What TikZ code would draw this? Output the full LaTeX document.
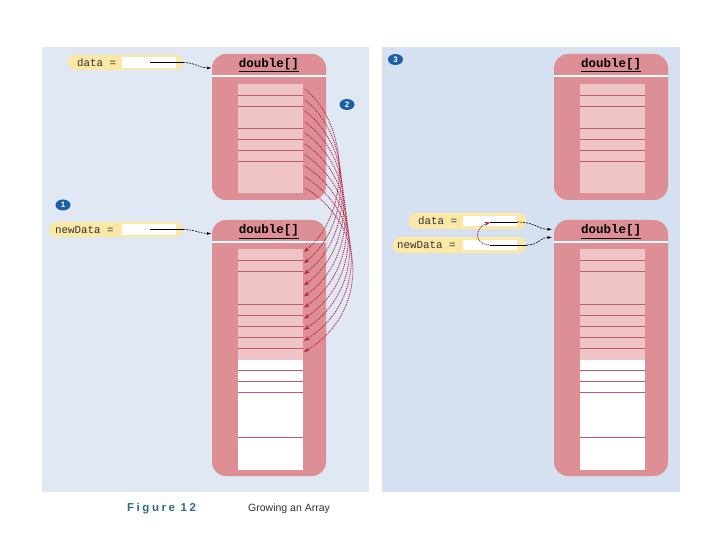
\documentclass[tikz,border=0pt]{standalone}
\usepackage{fontspec}
\newfontfamily\monof{Liberation Mono}
\newfontfamily\sansf{Liberation Sans}
\usetikzlibrary{arrows.meta,shapes.geometric}
\definecolor{panelL}{HTML}{E0E8F4}
\definecolor{panelR}{HTML}{D5E0F0}
\definecolor{arrfill}{HTML}{DE8E95}
\definecolor{cellpink}{HTML}{EEC4C6}
\definecolor{cellline}{HTML}{C05A6E}
\definecolor{pillyellow}{HTML}{FBE7A6}
\definecolor{numblue}{HTML}{1C5FA5}
\definecolor{copyred}{HTML}{B0203F}
\definecolor{figblue}{HTML}{2F6A8F}
\definecolor{txtgray}{HTML}{333333}
\begin{document}
\begin{tikzpicture}[x=1pt,y=-1pt,
  panel/.style={draw=none,inner sep=0,anchor=north west},
  arr/.style={fill=arrfill,draw=none,rounded corners=14pt,inner sep=0,minimum width=114pt},
  hdr/.style={font=\monof\bfseries\fontsize{12.5}{14}\selectfont,text=black,inner sep=0},
  cellsp/.style={fill=cellpink,draw=none,inner sep=0,minimum width=65pt},
  cellsw/.style={fill=white,draw=none,inner sep=0,minimum width=65pt},
  cline/.style={draw=cellline,line width=0.6pt},
  sep/.style={draw=white,line width=2pt},
  pill/.style={fill=pillyellow,draw=none,rounded corners=7.5pt,inner sep=0,minimum height=15pt},
  field/.style={fill=white,draw=none,inner sep=0,minimum width=54pt,minimum height=10.5pt},
  lbl/.style={font=\monof\fontsize{10.8}{12}\selectfont,text=txtgray,anchor=west,inner sep=0},
  num/.style={ellipse,fill=numblue,text=white,font=\sansf\bfseries\fontsize{8}{8}\selectfont,inner sep=0,minimum width=15pt,minimum height=11pt},
  ptr/.style={draw=black,line width=0.6pt},
  ptrd/.style={draw=black,line width=0.6pt,dash pattern=on 2pt off 1pt,-{Latex[length=4.5pt,width=3pt]}},
  copyarrow/.style={draw=copyred,line width=0.9pt,dash pattern=on 1pt off 1pt,-{Stealth[length=5.5pt,width=4pt]}}
]
\useasboundingbox (0,0) rectangle (720,540);
\fill[white] (0,0) rectangle (720,540);
% panels
\node[panel,fill=panelL,minimum width=327pt,minimum height=445pt] (P1) at (42,47) {};
\node[panel,fill=panelR,minimum width=298pt,minimum height=445pt] (P2) at (382,47) {};

% ---------- left top array ----------
\begin{scope}[shift={(212,54)}]
\node[arr,minimum height=146pt] (LTop) at (57,73) {};
\draw[sep] (0,22) -- (114,22);
\node[hdr] (LTopH) at (57,11) {\underline{double[]}};
\node[cellsp,minimum height=109pt] (LTopC) at (58.5,84.5) {};
\foreach \yy in {41,52,74,85,96,107} \draw[cline] (26,\yy) -- (91,\yy);
\end{scope}

% ---------- left bottom array ----------
\begin{scope}[shift={(212,220)}]
\node[arr,minimum height=256pt] (LBot) at (57,128) {};
\draw[sep] (0,21.5) -- (114,21.5);
\node[hdr] (LBotH) at (57,11.5) {\underline{double[]}};
\node[cellsp,minimum height=111pt] (LBotP) at (58.5,84.5) {};
\node[cellsw,minimum height=110pt] (LBotW) at (58.5,195) {};
\foreach \yy in {40.7,51.3,84.3,95.7,106.7,117.7,128.7,150.3,161.3,172.3,217.3} \draw[cline] (26,\yy) -- (91,\yy);
\end{scope}

% ---------- right top array ----------
\begin{scope}[shift={(554,54)}]
\node[arr,minimum height=146pt] (RTop) at (57,73) {};
\draw[sep] (0,22) -- (114,22);
\node[hdr] (RTopH) at (57,11) {\underline{double[]}};
\node[cellsp,minimum height=109pt] (RTopC) at (58.5,84.5) {};
\foreach \yy in {41,52,74,85,96,107} \draw[cline] (26,\yy) -- (91,\yy);
\end{scope}

% ---------- right bottom array ----------
\begin{scope}[shift={(554,220)}]
\node[arr,minimum height=256pt] (RBot) at (57,128) {};
\draw[sep] (0,21.5) -- (114,21.5);
\node[hdr] (RBotH) at (57,11.5) {\underline{double[]}};
\node[cellsp,minimum height=111pt] (RBotP) at (58.5,84.5) {};
\node[cellsw,minimum height=110pt] (RBotW) at (58.5,195) {};
\foreach \yy in {40.7,51.3,84.3,95.7,106.7,117.7,128.7,150.3,161.3,172.3,217.3} \draw[cline] (26,\yy) -- (91,\yy);
\end{scope}

% ---------- variables (left) ----------
\node[pill,minimum width=115pt] (LdP) at (125.5,62.5) {};
\node[field] (LdF) at (149,62.5) {};
\node[lbl] (LdT) at (77,62.5) {data =};
\node[pill,minimum width=134pt] (LnP) at (116,229.5) {};
\node[field] (LnF) at (149,229.5) {};
\node[lbl] (LnT) at (55,229.5) {newData =};

\coordinate (ld1) at (150,62.5);
\coordinate (ld2) at (183,62.5);
\coordinate (ldt) at (211.5,68);
\draw[ptr] (ld1) -- (ld2);
\draw[ptrd] (ld2) .. controls +(12,0) and +(-12,0) .. (ldt);
\coordinate (ln1) at (150,229.5);
\coordinate (ln2) at (183,229.5);
\coordinate (lnt) at (211.5,233.5);
\draw[ptr] (ln1) -- (ln2);
\draw[ptrd] (ln2) .. controls +(12,0) and +(-12,0) .. (lnt);

% ---------- copy arrows ----------
\foreach \i in {0,...,9} {
  \coordinate (s\i) at (305,{89+11*\i});
  \coordinate (e\i) at (304,{252+11.1*\i});
  \draw[copyarrow] (s\i) .. controls +({46+2*\i},38) and +({46+2*\i},-38) .. (e\i);
}

% ---------- variables (right) ----------
\node[pill,minimum width=117pt,minimum height=16pt] (RdP) at (467.5,221) {};
\node[field] (RdF) at (490,221) {};
\node[lbl] (RdT) at (418,221) {data =};
\node[pill,minimum width=133pt,minimum height=16pt] (RnP) at (459.5,245) {};
\node[field] (RnF) at (490,245) {};
\node[lbl] (RnT) at (397,245) {newData =};

\coordinate (rd1) at (490,222);
\coordinate (rd2) at (517,222);
\coordinate (rdt) at (552,229.3);
\draw[ptr] (rd1) -- (rd2);
\draw[ptrd] (rd2) .. controls +(18,0) and +(-14,0) .. (rdt);
\coordinate (rn1) at (490,245);
\coordinate (rn2) at (527,245);
\coordinate (rnt) at (552,237.5);
\draw[ptr] (rn1) -- (rn2);
\draw[ptrd] (rn2) .. controls +(12,0) and +(-12,0) .. (rnt);
\coordinate (lp1) at (489,245);
\coordinate (lp2) at (490,222.5);
\draw[copyarrow] (lp1) .. controls +(-17,-2) and +(-14,4) .. (lp2);

% ---------- step numbers ----------
\node[num] (n1) at (63,205) {1};
\node[num] (n2) at (347,104.5) {2};
\node[num] (n3) at (395.5,59.5) {3};

% ---------- caption ----------
\node[anchor=west,inner sep=0,text=figblue,font=\sansf\bfseries\fontsize{11.5}{13}\selectfont\addfontfeatures{LetterSpace=22}] (fig) at (127,509) {Figure 12};
\node[anchor=west,inner sep=0,text=txtgray,font=\sansf\fontsize{10.5}{12}\selectfont] (cap) at (248,509) {Growing an Array};
\end{tikzpicture}
\end{document}
